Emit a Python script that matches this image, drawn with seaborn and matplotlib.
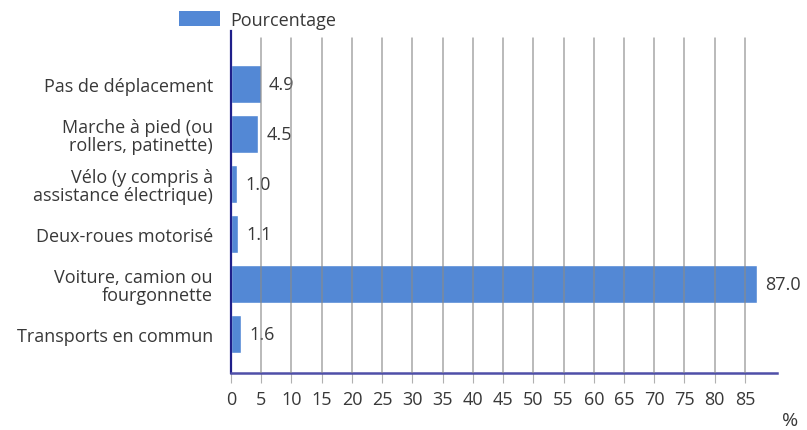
import matplotlib
matplotlib.use("Agg")
import matplotlib.pyplot as plt
import seaborn as sns
import pandas as pd
from matplotlib.patches import Patch

categories = [
    "Pas de déplacement",
    "Marche à pied (ou\nrollers, patinette)",
    "Vélo (y compris à\nassistance électrique)",
    "Deux-roues motorisé",
    "Voiture, camion ou\nfourgonnette",
    "Transports en commun",
]
values = [4.9, 4.5, 1.0, 1.1, 87.0, 1.6]
xticks = list(range(0, 90, 5))

sns.set_theme(style="white")
plt.rcParams['font.family'] = ['Open Sans', 'DejaVu Sans']

df = pd.DataFrame({"cat": categories, "val": values})
bar_color = "#5388d5"
text_color = "#383838"
fs = 13

fig = plt.figure(figsize=(8.07, 4.31), dpi=100)
ax = fig.add_axes([231/807, 1-374/431, (777-231)/807, (374-32)/431])

sns.barplot(data=df, x="val", y="cat", orient="h", color=bar_color,
            width=0.76, ax=ax, zorder=2, saturation=1)

ax.set_xlim(0, 90.3)
ax.set_ylim(5.77, -1.06)

for i, v in enumerate(values):
    ax.annotate(f"{v:.1f}", xy=(v, i), xytext=(6, 0), textcoords="offset points",
                va="center", ha="left", fontsize=fs, color=text_color)

for t in xticks[1:]:
    ax.axvline(t, ymin=0, ymax=(374-39)/(374-32), color="#8a8a8a", lw=1.1,
               alpha=0.75, zorder=3)

ax.set_xticks(xticks)
ax.set_xticklabels([str(t) for t in xticks], fontsize=fs, color=text_color)
ax.tick_params(axis="x", length=7, width=0.8, color="#b0b0b0", pad=5, bottom=True)
ax.tick_params(axis="y", length=0, pad=13, labelsize=fs, labelcolor=text_color)
ax.set_xlabel("")
ax.set_ylabel("")
for lab in ax.get_yticklabels():
    lab.set_multialignment("right")
    lab.set_linespacing(1.0)

for s in ["top", "right"]:
    ax.spines[s].set_visible(False)
ax.spines["left"].set_color("#1f1f8a")
ax.spines["left"].set_linewidth(1.6)
ax.spines["bottom"].set_color("#4f4fa8")
ax.spines["bottom"].set_linewidth(1.8)

handle = Patch(facecolor=bar_color, edgecolor="none")
fig.legend([handle], ["Pourcentage"], loc="upper left",
           bbox_to_anchor=(167/807, 1.0), frameon=False, fontsize=fs,
           handlelength=2.3, handleheight=0.95, handletextpad=0.55,
           labelcolor=text_color, borderaxespad=0.25)

fig.text(790/807, 1-421/431, "%", ha="center", va="center", fontsize=14,
         color=text_color)

fig.savefig("out.png", dpi=100)
